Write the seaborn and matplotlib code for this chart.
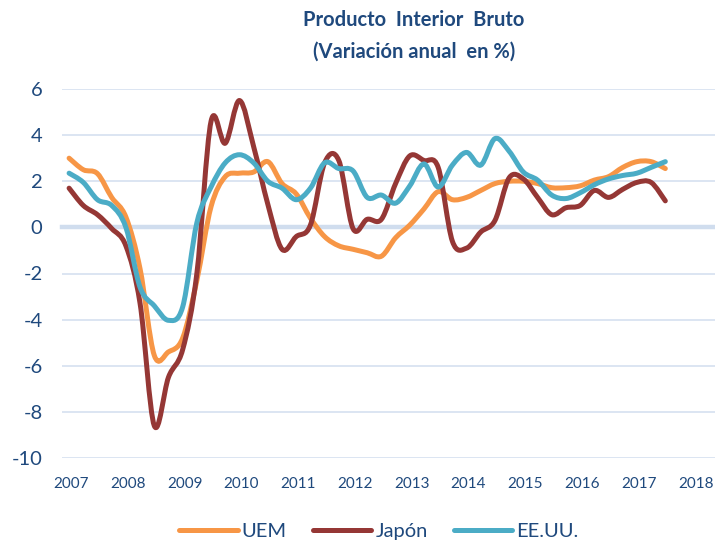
import numpy as np
import pandas as pd
import matplotlib
matplotlib.use("Agg")
import matplotlib.pyplot as plt
import matplotlib.transforms as mtransforms
from matplotlib.path import Path
from matplotlib.patches import PathPatch
import seaborn as sns

# ---------------- data ----------------
quarters = pd.period_range("2007Q1", "2017Q3", freq="Q")

uem = [3.0, 2.5, 2.33, 1.3, 0.45, -1.8, -5.55, -5.4, -4.8, -2.3, 0.9, 2.2,
       2.35, 2.4, 2.85, 1.9, 1.45, 0.4, -0.4, -0.8, -0.95, -1.1, -1.25, -0.45,
       0.1, 0.8, 1.55, 1.2, 1.3, 1.6, 1.9, 2.0, 2.0, 1.9, 1.72, 1.72,
       1.8, 2.05, 2.2, 2.6, 2.85, 2.85, 2.55]
japon = [1.7, 0.95, 0.55, -0.05, -0.8, -3.3, -8.6, -6.5, -5.3, -2.0, 4.6, 3.65,
         5.5, 3.5, 1.0, -0.95, -0.4, 0.1, 2.8, 2.9, -0.05, 0.35, 0.35, 1.9,
         3.1, 2.9, 2.6, -0.6, -0.9, -0.2, 0.3, 2.15, 2.1, 1.3, 0.55, 0.85,
         0.95, 1.6, 1.3, 1.65, 1.95, 1.95, 1.15]
eeuu = [2.35, 1.95, 1.2, 0.95, 0.0, -2.6, -3.4, -4.03, -3.45, 0.2, 1.75, 2.8,
        3.15, 2.8, 2.0, 1.7, 1.2, 1.7, 2.8, 2.55, 2.45, 1.3, 1.4, 1.05,
        1.8, 2.75, 1.75, 2.7, 3.25, 2.7, 3.85, 3.3, 2.4, 2.05, 1.4, 1.25,
        1.5, 1.85, 2.1, 2.25, 2.35, 2.6, 2.85]

series_names = ["UEM", "Japón", "EE.UU."]
series_colors = ["#F79646", "#953735", "#4BACC6"]
years = list(range(2007, 2019))
yticks = list(range(-10, 7, 2))
title = "Producto  Interior  Bruto\n(Variación anual  en %)"

# position of each quarter (middle of the quarter) on a year axis
xpos = [q.year + (q.quarter - 0.5) / 4 for q in quarters]
df = pd.DataFrame({
    "t": xpos * 3,
    "valor": uem + japon + eeuu,
    "serie": [series_names[0]] * len(uem) + [series_names[1]] * len(japon)
             + [series_names[2]] * len(eeuu),
})

# ---------------- style ----------------
sns.set_theme(style="white")
plt.rcParams["font.family"] = ["Lato", "DejaVu Sans"]
text_color = "#1F497D"
grid_color = "#D9E3F1"
LW = 3.6

fig = plt.figure(figsize=(7.15, 5.43), dpi=100)
ax = fig.add_axes([62 / 715, 1 - 458 / 543, 1 - 62 / 715, (458 - 89) / 543])

sns.lineplot(data=df, x="t", y="valor", hue="serie", hue_order=series_names,
             palette=dict(zip(series_names, series_colors)), linewidth=LW,
             ax=ax, legend=False, zorder=3)


def smooth_path(xy):
    """Excel-like smoothed line: cubic Bezier through the data points."""
    verts = [tuple(xy[0])]
    codes = [Path.MOVETO]
    n = len(xy)
    for i in range(n - 1):
        p0 = xy[max(i - 1, 0)]
        p1 = xy[i]
        p2 = xy[i + 1]
        p3 = xy[min(i + 2, n - 1)]
        c1 = p1 + (p2 - p0) / 6.0
        c2 = p2 - (p3 - p1) / 6.0
        verts += [tuple(c1), tuple(c2), tuple(p2)]
        codes += [Path.CURVE4] * 3
    return Path(verts, codes)


# render the seaborn lines as smoothed curves (same data, same scales)
for line in list(ax.get_lines()):
    xy = np.asarray(line.get_xydata(), dtype=float)
    color = line.get_color()
    patch = PathPatch(smooth_path(xy), facecolor="none", edgecolor=color,
                      linewidth=LW, capstyle="round", joinstyle="round",
                      transform=ax.transData, zorder=3)
    ax.add_patch(patch)
    line.set_visible(False)

ax.set_xlim(2007, 2018.5)
ax.set_ylim(-10, 6)
ax.set_yticks(yticks)
ax.set_yticklabels([str(v) for v in yticks])
ax.yaxis.grid(True, color=grid_color, linewidth=1.3)
ax.xaxis.grid(False)
ax.set_axisbelow(True)
for s in ["top", "right", "left"]:
    ax.spines[s].set_visible(False)
ax.spines["bottom"].set_position(("data", 0))
ax.spines["bottom"].set_color("#D0DDEE")
ax.spines["bottom"].set_linewidth(3.2)
ax.spines["bottom"].set_zorder(2)
ax.set_xticks(years)
ax.tick_params(axis="x", direction="out", length=4, width=3.2,
               color="#D0DDEE", labelbottom=False)
ax.tick_params(axis="y", length=0, pad=14, labelsize=14.5, labelcolor=text_color)
ax.set_xlabel("")
ax.set_ylabel("")

# year labels at bottom
sec = ax.secondary_xaxis("bottom")
sec.set_xticks(years)
sec.set_xticklabels([str(y) for y in years])
sec.tick_params(length=0, pad=14, labelsize=11, labelcolor=text_color)
sec.spines["bottom"].set_visible(False)
offset = mtransforms.ScaledTranslation(9 / 100, 0, fig.dpi_scale_trans)
for lab in sec.get_xticklabels():
    lab.set_transform(lab.get_transform() + offset)

fig.text(414 / 715, 1 - 36 / 543, title, ha="center", va="center",
         fontsize=14.5, fontweight="bold", color=text_color, linespacing=1.75)

handles = [plt.Line2D([], [], color=c, linewidth=LW, solid_capstyle="round")
           for c in series_colors]
fig.legend(handles, series_names, loc="center", bbox_to_anchor=(379 / 715, 1 - 531 / 543),
           ncol=3, frameon=False, fontsize=14.5, handlelength=2.9,
           handletextpad=0.2, columnspacing=1.3, labelcolor=text_color)

fig.savefig("out.png", dpi=100)
